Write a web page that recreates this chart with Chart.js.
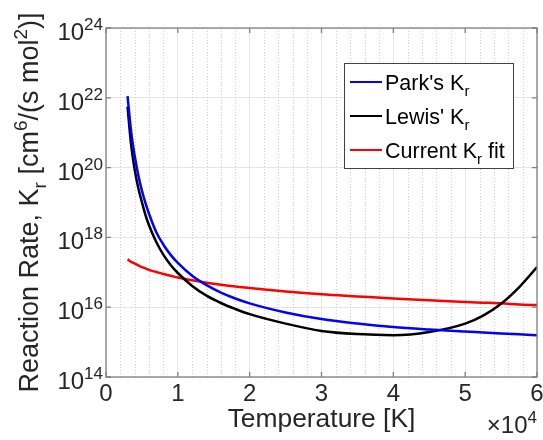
<!DOCTYPE html>
<html lang="en">
<head>
<meta charset="UTF-8">
<title>Reaction Rate vs Temperature</title>
<script src="https://cdn.jsdelivr.net/npm/chart.js"></script>
<style>
    body { margin: 0; background: white; }
    #wrap { width: 543px; height: 440px; }
</style>
</head>
<body>
<div id="wrap"><canvas id="rateChart"></canvas></div>
<script>
    // Temperatures in K, rates in cm^6/(s mol^2)
    const temps = [3000, 3500, 4000, 4500, 5000, 5500, 6000, 7000, 8000, 9000, 10000, 12000, 14000,
                   16000, 18000, 20000, 25000, 30000, 35000, 40000, 45000, 50000, 52500, 55000, 57500, 60000];
    const parkKr = [1.12e22, 1.07e21, 2.14e20, 6.03e19, 2.19e19, 9.55e18, 4.68e18, 1.41e18, 6.17e17, 3.16e17,
                    1.86e17, 7.94e16, 4.27e16, 2.63e16, 1.78e16, 1.29e16, 7.08e15, 4.57e15, 3.39e15, 2.69e15,
                    2.29e15, 2.0e15, 1.88e15, 1.77e15, 1.67e15, 1.58e15];
    const lewisKr = [5.62e21, 4.47e20, 8.51e19, 2.57e19, 1.02e19, 4.37e18, 2.19e18, 7.41e17, 3.16e17, 1.62e17,
                     9.55e16, 4.07e16, 2.14e16, 1.32e16, 8.91e15, 6.31e15, 3.39e15, 2.09e15, 1.70e15, 1.58e15,
                     1.95e15, 3.39e15, 5.75e15, 1.26e16, 3.72e16, 1.41e17];
    const fitKr = [2.34e17, 2.0e17, 1.78e17, 1.58e17, 1.41e17, 1.29e17, 1.17e17, 1.02e17, 8.91e16, 7.94e16,
                   7.08e16, 5.89e16, 5.01e16, 4.37e16, 3.89e16, 3.55e16, 2.82e16, 2.34e16, 2.04e16, 1.78e16,
                   1.58e16, 1.41e16, 1.35e16, 1.29e16, 1.20e16, 1.15e16];

    const xTicks = [0, 10000, 20000, 30000, 40000, 50000, 60000];
    const xTickLabels = ['0', '1', '2', '3', '4', '5', '6'];
    const yTicks = [1e14, 1e16, 1e18, 1e20, 1e22, 1e24];
    const yTickExps = ['14', '16', '18', '20', '22', '24'];

    const seriesColors = ['#0000ff', '#000000', '#ff0000'];
    // legend entries as [text, 'n' | 'sub' | 'sup'] pieces
    const legendLabels = [
        [["Park's K", 'n'], ['r', 'sub']],
        [["Lewis' K", 'n'], ['r', 'sub']],
        [['Current K', 'n'], ['r', 'sub'], [' fit', 'n']]
    ];
    const xTitle = [['Temperature [K]', 'n']];
    const yTitle = [['Reaction Rate, K', 'n'], ['r', 'sub'], [' [cm', 'n'], ['6', 'sup'],
                    ['/(s mol', 'n'], ['2', 'sup'], [')]', 'n']];

    const FONT = '"Liberation Sans", Arial, Helvetica, sans-serif';
    const TEXT = '#262626';

    function partFont(kind, size) {
        return (kind === 'n' ? size : Math.round(size * 0.7)) + 'px ' + FONT;
    }

    function richWidth(ctx, parts, size) {
        let w = 0;
        for (const [t, k] of parts) {
            ctx.font = partFont(k, size);
            w += ctx.measureText(t).width;
        }
        return w;
    }

    function drawRich(ctx, parts, x, y, size, align) {
        const w = richWidth(ctx, parts, size);
        let cx = align === 'center' ? x - w / 2 : align === 'right' ? x - w : x;
        ctx.textAlign = 'left';
        ctx.textBaseline = 'alphabetic';
        for (const [t, k] of parts) {
            ctx.font = partFont(k, size);
            const dy = k === 'sup' ? -0.42 * size : k === 'sub' ? 0.3 * size : 0;
            ctx.fillText(t, cx, y + dy);
            cx += ctx.measureText(t).width;
        }
    }

    // axes box, dotted minor grid, ticks, labels and legend drawn by hand
    const axesDecor = {
        id: 'axesDecor',
        beforeDatasetsDraw(chart) {
            const { ctx, chartArea: a, scales: { x } } = chart;
            ctx.save();
            ctx.strokeStyle = '#cfcfcf';
            ctx.lineWidth = 1;
            ctx.setLineDash([1, 2]);
            for (let v = 2000; v < 60000; v += 2000) {
                if (v % 10000 === 0) continue;
                const px = Math.round(x.getPixelForValue(v)) + 0.5;
                ctx.beginPath();
                ctx.moveTo(px, a.top);
                ctx.lineTo(px, a.bottom);
                ctx.stroke();
            }
            ctx.restore();
        },
        afterDatasetsDraw(chart) {
            const { ctx, chartArea: a, scales: { x, y } } = chart;
            ctx.save();
            ctx.strokeStyle = '#808080';
            ctx.lineWidth = 1.3;
            ctx.strokeRect(a.left, a.top, a.right - a.left, a.bottom - a.top);

            const tl = 5;
            ctx.beginPath();
            xTicks.forEach(v => {
                const px = x.getPixelForValue(v);
                ctx.moveTo(px, a.bottom); ctx.lineTo(px, a.bottom - tl);
                ctx.moveTo(px, a.top); ctx.lineTo(px, a.top + tl);
            });
            yTicks.forEach(v => {
                const py = y.getPixelForValue(v);
                ctx.moveTo(a.left, py); ctx.lineTo(a.left + tl, py);
                ctx.moveTo(a.right, py); ctx.lineTo(a.right - tl, py);
            });
            ctx.stroke();

            // legend
            const lx = 344, ly = 63, lw = 169, lh = 105;
            ctx.fillStyle = '#ffffff';
            ctx.fillRect(lx, ly, lw, lh);
            ctx.strokeStyle = '#404040';
            ctx.lineWidth = 1;
            ctx.strokeRect(lx + 0.5, ly + 0.5, lw, lh);
            legendLabels.forEach((parts, i) => {
                const rowY = 82 + i * 34;
                ctx.strokeStyle = seriesColors[i];
                ctx.lineWidth = 2;
                ctx.beginPath();
                ctx.moveTo(350, rowY);
                ctx.lineTo(382, rowY);
                ctx.stroke();
                ctx.fillStyle = '#000000';
                drawRich(ctx, parts, 385, rowY + 8, 21.5, 'left');
            });
            ctx.restore();
        },
        afterDraw(chart) {
            const { ctx, chartArea: a, scales: { x, y } } = chart;
            ctx.save();
            ctx.fillStyle = TEXT;
            xTicks.forEach((v, i) => {
                drawRich(ctx, [[xTickLabels[i], 'n']], x.getPixelForValue(v), a.bottom + 24, 24, 'center');
            });
            yTicks.forEach((v, i) => {
                drawRich(ctx, [['10', 'n'], [yTickExps[i], 'sup']], a.left - 3, y.getPixelForValue(v) + 12, 24, 'right');
            });
            drawRich(ctx, [['\u00d710', 'n'], ['4', 'sup']], a.right, 433, 24, 'right');
            drawRich(ctx, xTitle, (a.left + a.right) / 2, 427, 26.4, 'center');

            ctx.translate(38, (a.top + a.bottom) / 2);
            ctx.rotate(-Math.PI / 2);
            drawRich(ctx, yTitle, 0, 0, 27, 'center');
            ctx.restore();
        }
    };

    const toPoints = vals => temps.map((t, i) => ({ x: t, y: vals[i] }));

    new Chart(document.getElementById('rateChart'), {
        type: 'line',
        data: {
            datasets: [
                { label: "Park's Kr", data: toPoints(parkKr), borderColor: seriesColors[0] },
                { label: "Lewis' Kr", data: toPoints(lewisKr), borderColor: seriesColors[1] },
                { label: 'Current Kr fit', data: toPoints(fitKr), borderColor: seriesColors[2] }
            ].map(d => Object.assign(d, { borderWidth: 2.5, pointRadius: 0, fill: false, cubicInterpolationMode: 'monotone' }))
        },
        options: {
            responsive: true,
            maintainAspectRatio: false,
            animation: false,
            layout: { padding: { top: 28, right: 6, left: 0, bottom: 0 } },
            plugins: { legend: { display: false }, tooltip: { enabled: false } },
            scales: {
                x: {
                    type: 'linear', min: 0, max: 60000,
                    afterBuildTicks: s => { s.ticks = xTicks.map(v => ({ value: v })); },
                    afterFit: s => { s.height = 63; },
                    ticks: { display: false },
                    grid: { color: '#e6e6e6', drawTicks: false },
                    border: { display: false }
                },
                y: {
                    type: 'logarithmic', min: 1e14, max: 1e24,
                    afterBuildTicks: s => { s.ticks = yTicks.map(v => ({ value: v })); },
                    afterFit: s => { s.width = 106; },
                    ticks: { display: false },
                    grid: { color: '#e6e6e6', drawTicks: false },
                    border: { display: false }
                }
            }
        },
        plugins: [axesDecor]
    });
</script>
</body>
</html>
